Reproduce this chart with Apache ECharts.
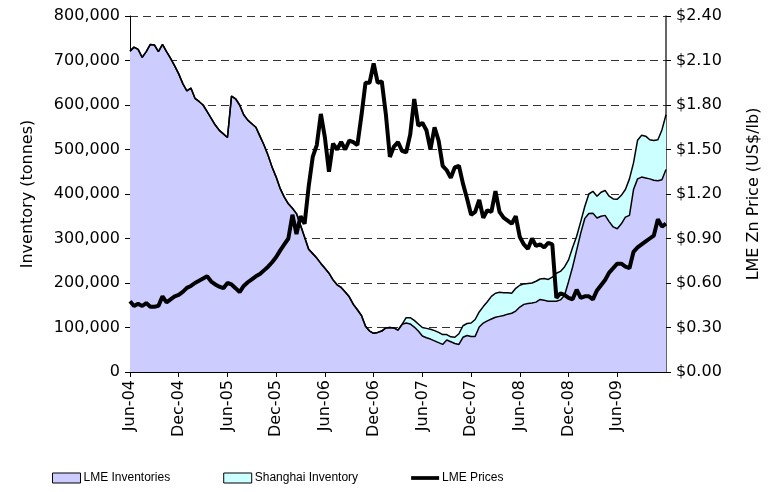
<!DOCTYPE html>
<html>
<head>
<meta charset="utf-8">
<script src="https://cdn.jsdelivr.net/npm/echarts@6/dist/echarts.min.js"></script>
<style>
  html, body { margin: 0; padding: 0; background: #fff; }
  #chart { width: 773px; height: 492px; }
</style>
</head>
<body>
<div id="chart"></div>
<script>
  // half-month periods, Jun-04 .. Dec-09
  const tickLabels = ['Jun-04', 'Dec-04', 'Jun-05', 'Dec-05', 'Jun-06', 'Dec-06',
    'Jun-07', 'Dec-07', 'Jun-08', 'Dec-08', 'Jun-09'];

  const periods = [];
  for (let i = 0; i <= 132; i++) {
    let m = 5 + Math.floor(i / 2);
    let y = 2004 + Math.floor(m / 12);
    periods.push(y + '-' + String(m % 12 + 1).padStart(2, '0') + (i % 2 ? '-16' : '-01'));
  }

  // LME inventories (tonnes)
  const lmeInventory = [
    721000, 730000, 725000, 707000, 720000, 736000, 735000, 720000, 736000, 720000,
    705000, 688000, 670000, 648000, 632000, 638000, 615000, 608000, 600000, 585000,
    570000, 555000, 543000, 535000, 527000, 620000, 614000, 600000, 578000, 566000,
    558000, 550000, 530000, 510000, 487000, 460000, 438000, 412000, 393000, 378000,
    368000, 356000, 330000, 303000, 276000, 266000, 256000, 244000, 233000, 222000,
    207000, 196000, 190000, 180000, 169000, 152000, 140000, 127000, 103000, 92000,
    87000, 89000, 92000, 99000, 100000, 99000, 94000, 107000, 110000, 108000,
    101000, 92000, 81000, 77000, 74000, 70000, 66000, 62000, 72000, 68000,
    64000, 62000, 78000, 82000, 80000, 80000, 101000, 110000, 115000, 119000,
    123000, 125000, 127000, 130000, 132000, 137000, 146000, 152000, 154000, 155000,
    157000, 163000, 161000, 159000, 159000, 159000, 162000, 172000, 203000, 236000,
    274000, 312000, 345000, 356000, 357000, 346000, 350000, 352000, 338000, 326000,
    322000, 333000, 348000, 352000, 410000, 434000, 438000, 436000, 434000, 431000,
    430000, 432000, 455000
  ];

  // Shanghai inventory (tonnes), stacked on LME
  const shanghaiInventory = [
    0, 0, 0, 0, 0, 0, 0, 0, 0, 0,
    0, 0, 0, 0, 0, 0, 0, 0, 0, 0,
    0, 0, 0, 0, 0, 0, 0, 0, 0, 0,
    0, 0, 0, 0, 0, 0, 0, 0, 0, 0,
    0, 0, 0, 0, 0, 0, 0, 0, 0, 0,
    0, 0, 0, 0, 0, 0, 0, 0, 0, 0,
    0, 0, 0, 0, 0, 0, 0, 0, 12000, 14000,
    15000, 16000, 19000, 21000, 22000, 23000, 23000, 22000, 12000, 11000,
    14000, 24000, 26000, 27000, 30000, 38000, 34000, 37000, 43000, 51000,
    54000, 54000, 51000, 48000, 45000, 51000, 49000, 46000, 45000, 45000,
    47000, 46000, 49000, 49000, 54000, 63000, 64000, 64000, 49000, 44000,
    31000, 26000, 27000, 44000, 49000, 49000, 54000, 56000, 57000, 63000,
    66000, 64000, 62000, 82000, 60000, 87000, 94000, 94000, 88000, 89000,
    92000, 112000, 123000
  ];

  // LME zinc price (US$/lb)
  const lmePrice = [
    0.477, 0.445, 0.46, 0.445, 0.465, 0.44, 0.44, 0.446, 0.51, 0.47,
    0.49, 0.51, 0.52, 0.54, 0.567, 0.58, 0.60, 0.615, 0.63, 0.645,
    0.61, 0.59, 0.575, 0.565, 0.60, 0.59, 0.565, 0.538, 0.58, 0.605,
    0.625, 0.645, 0.66, 0.685, 0.71, 0.74, 0.775, 0.82, 0.86, 0.90,
    1.06, 0.93, 1.05, 1.00, 1.25, 1.45, 1.53, 1.74, 1.58, 1.35,
    1.54, 1.50, 1.55, 1.50, 1.56, 1.55, 1.53, 1.73, 1.95, 1.95,
    2.08, 1.95, 1.96, 1.74, 1.45, 1.52, 1.55, 1.49, 1.48, 1.60,
    1.84, 1.66, 1.68, 1.63, 1.50, 1.65, 1.56, 1.39, 1.36, 1.31,
    1.38, 1.39, 1.27, 1.17, 1.06, 1.08, 1.16, 1.04, 1.09, 1.08,
    1.22, 1.08, 1.04, 1.02, 1.00, 1.05, 0.91, 0.86, 0.83, 0.90,
    0.85, 0.86, 0.84, 0.87, 0.86, 0.50, 0.53, 0.52, 0.50, 0.49,
    0.555, 0.50, 0.51, 0.51, 0.49, 0.55, 0.585, 0.62, 0.67, 0.70,
    0.73, 0.73, 0.71, 0.70, 0.81, 0.84, 0.86, 0.88, 0.90, 0.92,
    1.03, 0.98, 1.00
  ];

  const isTick = (index) => index % 12 === 0 && index < 132;

  let myChart = echarts.init(document.getElementById('chart'));

  let option = {
    animation: false,
    textStyle: { fontFamily: 'DejaVu Sans', color: '#000' },
    grid: { left: 130, right: 107, top: 16, bottom: 120 },
    legend: {
      left: 47,
      top: 467,
      itemWidth: 28,
      itemHeight: 10,
      itemGap: 53,
      textStyle: { fontFamily: 'Liberation Sans', fontSize: 12, color: '#000', padding: [0, 0, 0, -2] },
      data: [
        { name: 'LME Inventories', icon: 'rect', itemStyle: { color: '#CCCCFF', borderColor: '#000', borderWidth: 1 } },
        { name: 'Shanghai Inventory', icon: 'rect', itemStyle: { color: '#CCFFFF', borderColor: '#000', borderWidth: 1 } },
        { name: 'LME Prices', icon: 'path://M0,0 L30,0 L30,4 L0,4 Z', itemStyle: { color: '#000', borderWidth: 0 } }
      ]
    },
    xAxis: [{
      type: 'category',
      data: periods,
      boundaryGap: false,
      axisLine: { lineStyle: { color: '#000', width: 1 } },
      axisTick: { interval: isTick, length: 5, lineStyle: { color: '#000' } },
      axisLabel: {
        interval: isTick,
        rotate: 90,
        margin: 8,
        fontSize: 16,
        color: '#000',
        formatter: (v, i) => tickLabels[i / 12]
      }
    }, {
      type: 'category',
      data: periods,
      boundaryGap: false,
      position: 'top',
      axisLine: { show: true, lineStyle: { color: '#000', width: 1 } },
      axisTick: { show: false },
      axisLabel: { show: false }
    }],
    yAxis: [{
      type: 'value',
      min: 0,
      max: 800000,
      interval: 100000,
      name: 'Inventory (tonnes)',
      nameLocation: 'middle',
      nameGap: 94,
      nameTextStyle: { fontSize: 16, color: '#000' },
      axisLine: { show: true, lineStyle: { color: '#000' } },
      axisTick: { show: true, length: 5, lineStyle: { color: '#000' } },
      axisLabel: {
        fontSize: 16,
        color: '#000',
        margin: 10,
        formatter: v => v.toLocaleString('en-US')
      },
      splitLine: { lineStyle: { color: '#333', type: [8, 5], width: 1 } }
    }, {
      type: 'value',
      min: 0,
      max: 2.4,
      interval: 0.3,
      position: 'right',
      name: 'LME Zn Price (US$/lb)',
      nameLocation: 'middle',
      nameGap: 80,
      nameRotate: 90,
      nameTextStyle: { fontSize: 16, color: '#000' },
      axisLine: { show: true, lineStyle: { color: '#333', width: 1.5 } },
      axisTick: { show: true, length: 5, lineStyle: { color: '#000' } },
      axisLabel: {
        fontSize: 16,
        color: '#000',
        margin: 10,
        formatter: v => '$' + v.toFixed(2)
      },
      splitLine: { show: false }
    }],
    series: [{
      name: 'LME Inventories',
      type: 'line',
      stack: 'inv',
      symbol: 'none',
      lineStyle: { color: '#000', width: 1.5 },
      itemStyle: { color: '#CCCCFF' },
      areaStyle: { color: '#CCCCFF', opacity: 1 },
      data: lmeInventory
    }, {
      name: 'Shanghai Inventory',
      type: 'line',
      stack: 'inv',
      symbol: 'none',
      lineStyle: { color: '#000', width: 1.5 },
      itemStyle: { color: '#CCFFFF' },
      areaStyle: { color: '#CCFFFF', opacity: 1 },
      data: shanghaiInventory
    }, {
      name: 'LME Prices',
      type: 'line',
      yAxisIndex: 1,
      symbol: 'none',
      z: 5,
      lineStyle: { color: '#000', width: 4 },
      itemStyle: { color: '#000' },
      data: lmePrice
    }]
  };

  myChart.setOption(option);
</script>
</body>
</html>
